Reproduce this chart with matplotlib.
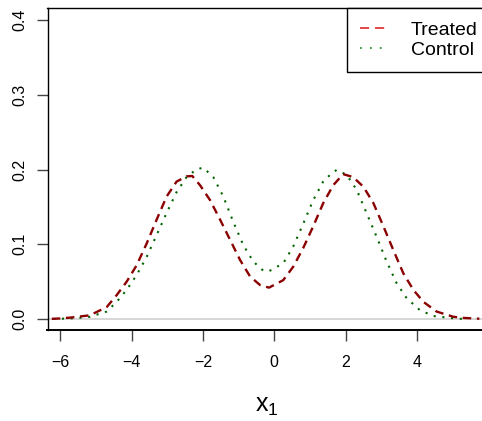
import matplotlib
matplotlib.use('Agg')
import matplotlib.pyplot as plt
from matplotlib.lines import Line2D

plt.rcParams['font.family'] = ['Liberation Sans', 'DejaVu Sans']
plt.rcParams['mathtext.fontset'] = 'custom'
plt.rcParams['mathtext.rm'] = 'Liberation Sans'

# density of x1
treated_x = [-6.24, -6.0, -5.7, -5.17, -4.7, -4.42, -4.14, -3.86, -3.58, -3.3, -3.02,
             -2.74, -2.46, -2.3, -2.08, -1.8, -1.52, -1.24, -0.96, -0.68, -0.4, -0.15,
             0.25, 0.53, 0.81, 1.09, 1.37, 1.65, 1.93, 2.21, 2.5, 2.78, 3.06, 3.34,
             3.62, 3.9, 4.18, 4.55, 5.02, 5.3, 5.75]
treated_y = [0.0002, 0.0008, 0.002, 0.005, 0.016, 0.032, 0.05, 0.072, 0.101, 0.133, 0.164,
             0.184, 0.191, 0.1915, 0.179, 0.159, 0.133, 0.106, 0.079, 0.057, 0.0455, 0.042,
             0.052, 0.070, 0.095, 0.124, 0.155, 0.179, 0.194, 0.19, 0.177, 0.155, 0.124, 0.092,
             0.061, 0.039, 0.023, 0.010, 0.003, 0.0015, 0.0004]

control_x = [-6.2, -5.6, -5.17, -4.7, -4.42, -4.14, -3.86, -3.58, -3.3, -3.02, -2.74,
             -2.46, -2.18, -1.99, -1.71, -1.43, -1.15, -0.87, -0.59, -0.31, -0.15, 0.25,
             0.53, 0.81, 1.09, 1.37, 1.65, 1.75, 2.03, 2.31, 2.59, 2.87, 3.15, 3.43,
             3.71, 4.08, 4.46, 5.11, 5.3]
control_y = [0.0001, 0.001, 0.003, 0.010, 0.023, 0.039, 0.059, 0.083, 0.1125, 0.142, 0.170,
             0.19, 0.2005, 0.2026, 0.19, 0.164, 0.130, 0.099, 0.077, 0.0647, 0.064, 0.0746,
             0.097, 0.1275, 0.159, 0.184, 0.197, 0.1995, 0.193, 0.173, 0.1415, 0.110, 0.077, 0.048,
             0.028, 0.012, 0.004, 0.0005, 0.0002]

xticks = [-6, -4, -2, 0, 2, 4]
yticks = [0.0, 0.1, 0.2, 0.3, 0.4]

fig = plt.figure(figsize=(4.82, 4.21), dpi=100)
ax = fig.add_axes([47.5 / 482, 91 / 421, 439 / 482, 321.7 / 421])

ax.axhline(0, color='#d3d3d3', lw=1.3, zorder=1)
ax.plot(treated_x, treated_y, color='#8b0000', lw=1.7, linestyle=(0, (3.6, 2.4)), zorder=3)
ax.plot(control_x, control_y, color='#006400', lw=1.5, linestyle=(0, (1, 3.2)), zorder=2)

ax.set_xlim(-6.36, 5.95)
ax.set_ylim(-0.0147, 0.416)
ax.set_xticks(xticks)
ax.set_yticks(yticks)
ax.set_yticklabels(['%.1f' % v for v in yticks], rotation=90, va='center')
ax.tick_params(direction='out', length=7.7, width=1.0, color='#444444', labelsize=11.5)
ax.tick_params(axis='x', pad=10.5)
ax.tick_params(axis='y', pad=7)
for s in ax.spines.values():
    s.set_linewidth(1.0)
    s.set_color('black')
ax.spines['bottom'].set_linewidth(1.4)

ax.set_xlabel(r'$\mathregular{x_1}$', fontsize=18, labelpad=17)

handles = [Line2D([], [], color='#dd2a2a', lw=1.2, linestyle=(0, (5.5, 3.5))),
           Line2D([], [], color='#2e9a2e', lw=1.3, linestyle=(0, (1, 4.5)))]
leg = ax.legend(handles, ['Treated', 'Control'], loc='upper left',
                bbox_to_anchor=((347 - 47.5) / 439, 1.0), borderaxespad=0,
                fontsize=14, frameon=True, fancybox=False, framealpha=1,
                edgecolor='black', handlelength=1.35, handletextpad=1.25,
                borderpad=0.68, labelspacing=0.1)
leg.get_frame().set_linewidth(1.0)

fig.savefig('out.png', dpi=100)
